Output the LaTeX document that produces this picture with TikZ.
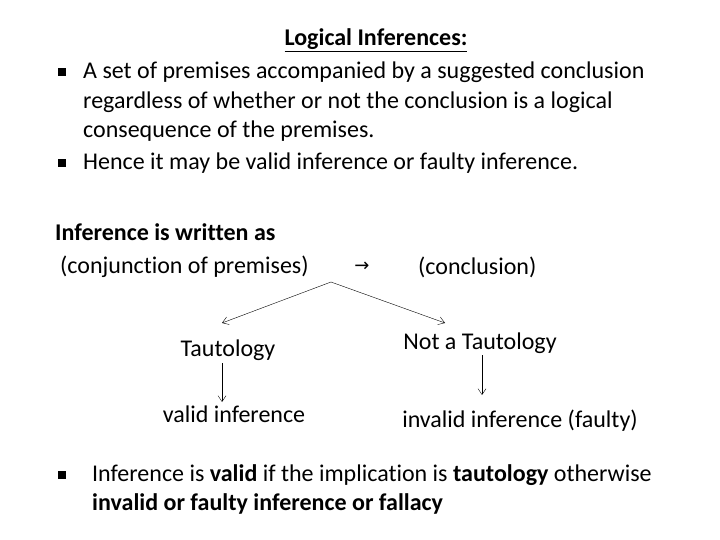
\documentclass[tikz,border=0pt]{standalone}
\usepackage{fontspec}
\setmainfont{Carlito}[Ligatures={NoCommon}]
\newfontfamily\symfont{DejaVu Sans}
\usetikzlibrary{positioning,arrows.meta}
\tikzset{txt/.style={anchor=west,inner sep=0pt,font=\fontsize{24bp}{28bp}\selectfont},
  ctr/.style={inner sep=0pt,font=\fontsize{24bp}{28bp}\selectfont},
  sqbullet/.style={fill=black,minimum size=8bp,inner sep=0pt}}
\begin{document}
\begin{tikzpicture}[x=1bp,y=-1bp,>={Straight Barb[length=6bp,width=8bp]}]
\useasboundingbox (0,0) rectangle (720,540);
% heading
\node[ctr,font=\fontsize{24bp}{28bp}\selectfont\bfseries] (head) at (376,40) {\underline{Logical Inferences:}};
% bullets
\node[sqbullet] (b1) at (62,72) {};
\node[txt] (l1) at (83,72) {A set of premises accompanied by a suggested conclusion};
\node[txt] (l2) at (83,102) {regardless of whether or not the conclusion is a logical};
\node[txt] (l3) at (83,131) {consequence of the premises.};
\node[sqbullet] (b2) at (62,163) {};
\node[txt] (l4) at (83,163) {Hence it may be valid inference or faulty inference.};
% form
\node[txt,font=\fontsize{24bp}{28bp}\selectfont\bfseries] (form) at (55,232) {Inference is written as};
\node[txt] (conj) at (60,267) {(conjunction of premises)};
\node[ctr,font=\fontsize{18bp}{22bp}\symfont] (arr) at (362,267) {→};
\node[txt] (concl) at (418,267) {(conclusion)};
% tree
\coordinate (apex) at (331,282);
\node[ctr] (taut) at (228,350) {Tautology};
\node[ctr] (ntaut) at (480,343) {Not a Tautology};
\draw[->] (apex) -- (222,323);
\draw[->] (apex) -- (445,323);
\node[ctr] (valid) at (234,414) {valid inference};
\node[ctr] (invalid) at (520,421) {invalid inference (faulty)};
\draw[->] (222,363) -- (222,402);
\draw[->] (482,355) -- (482,395);
% last bullet
\node[sqbullet] (b3) at (62,475) {};
\node[txt] (l5) at (92,475) {Inference is \textbf{valid} if the implication is \textbf{tautology} otherwise};
\node[txt] (l6) at (92,504) {\textbf{invalid or faulty inference or fallacy}};
\end{tikzpicture}
\end{document}
